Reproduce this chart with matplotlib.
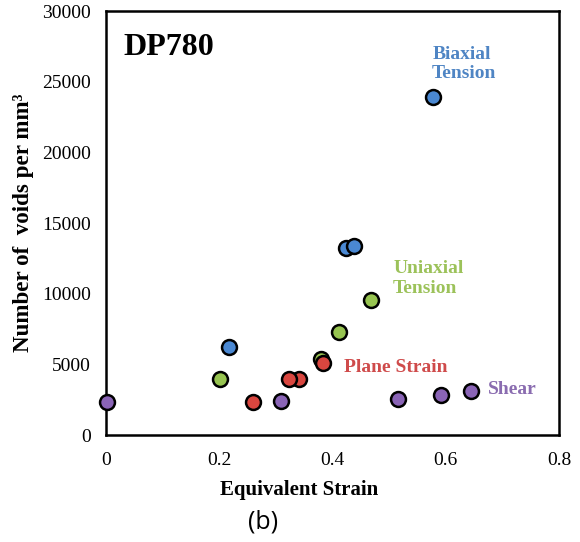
import matplotlib.pyplot as plt

# equivalent strain / void density
biaxial_x = [0.577, 0.423, 0.438, 0.218]
biaxial_y = [23900, 13250, 13390, 6250]
uniaxial_x = [0.468, 0.411, 0.379, 0.202]
uniaxial_y = [9550, 7260, 5350, 3940]
plane_x = [0.383, 0.340, 0.324, 0.259]
plane_y = [5070, 3990, 3940, 2360]
shear_x = [0.001, 0.309, 0.515, 0.591, 0.644]
shear_y = [2310, 2430, 2550, 2810, 3090]

xticks = [0, 0.2, 0.4, 0.6, 0.8]
xtick_labels = ['0', '0.2', '0.4', '0.6', '0.8']
yticks = [0, 5000, 10000, 15000, 20000, 25000, 30000]

c_blue = '#4a88d2'
c_green = '#97c451'
c_red = '#d9463f'
c_purple = '#8a64b6'

plt.rcParams['font.family'] = ['Liberation Serif', 'DejaVu Serif']

fig = plt.figure(figsize=(5.8, 5.42), dpi=100)
ax = fig.add_axes([106 / 580, 1 - 435 / 542, 453 / 580, 424 / 542])

mk = dict(marker='o', s=115, edgecolors='black', linewidths=1.8, zorder=3, clip_on=False)
ax.scatter(biaxial_x, biaxial_y, color=c_blue, **mk)
ax.scatter(uniaxial_x, uniaxial_y, color=c_green, **mk)
ax.scatter(plane_x, plane_y, color=c_red, **mk)
ax.scatter(shear_x, shear_y, color=c_purple, **mk)

ax.set_xlim(0, 0.8)
ax.set_ylim(0, 30000)
ax.set_xticks(xticks)
ax.set_xticklabels(xtick_labels)
ax.set_yticks(yticks)
ax.tick_params(length=0, labelsize=14)
ax.tick_params(axis='x', pad=12)
ax.tick_params(axis='y', pad=11)
for s in ax.spines.values():
    s.set_linewidth(1.8)

ax.set_xlabel('Equivalent Strain', fontsize=15, fontweight='bold')
ax.xaxis.set_label_coords((299 - 106) / 453, -(480 - 435) / 424)
ax.set_ylabel('Number of  voids per mm³', fontsize=16.6, fontweight='bold')
ax.yaxis.set_label_coords(-(106 - 34) / 453, 0.5)

ax.text(0.0375, 0.915, 'DP780', transform=ax.transAxes, fontsize=23, fontweight='bold', va='center')
ax.text(0.576, 26250, 'Biaxial\nTension', color='#4f85c4', fontsize=14, fontweight='bold',
        va='center', linespacing=1.22)
ax.text(0.507, 11100, 'Uniaxial\nTension', color='#9cc25a', fontsize=14, fontweight='bold',
        va='center', linespacing=1.22)
ax.text(0.421, 4810, 'Plane Strain', color='#cf4b4b', fontsize=14, fontweight='bold', va='center')
ax.text(0.675, 3250, 'Shear', color='#8a6cb0', fontsize=14, fontweight='bold', va='center')

fig.text(263 / 580, 1 - 522 / 542, '(b)', fontsize=18,
         family=['Open Sans', 'DejaVu Sans'], ha='center', va='center')

fig.savefig('out.png', dpi=100)
